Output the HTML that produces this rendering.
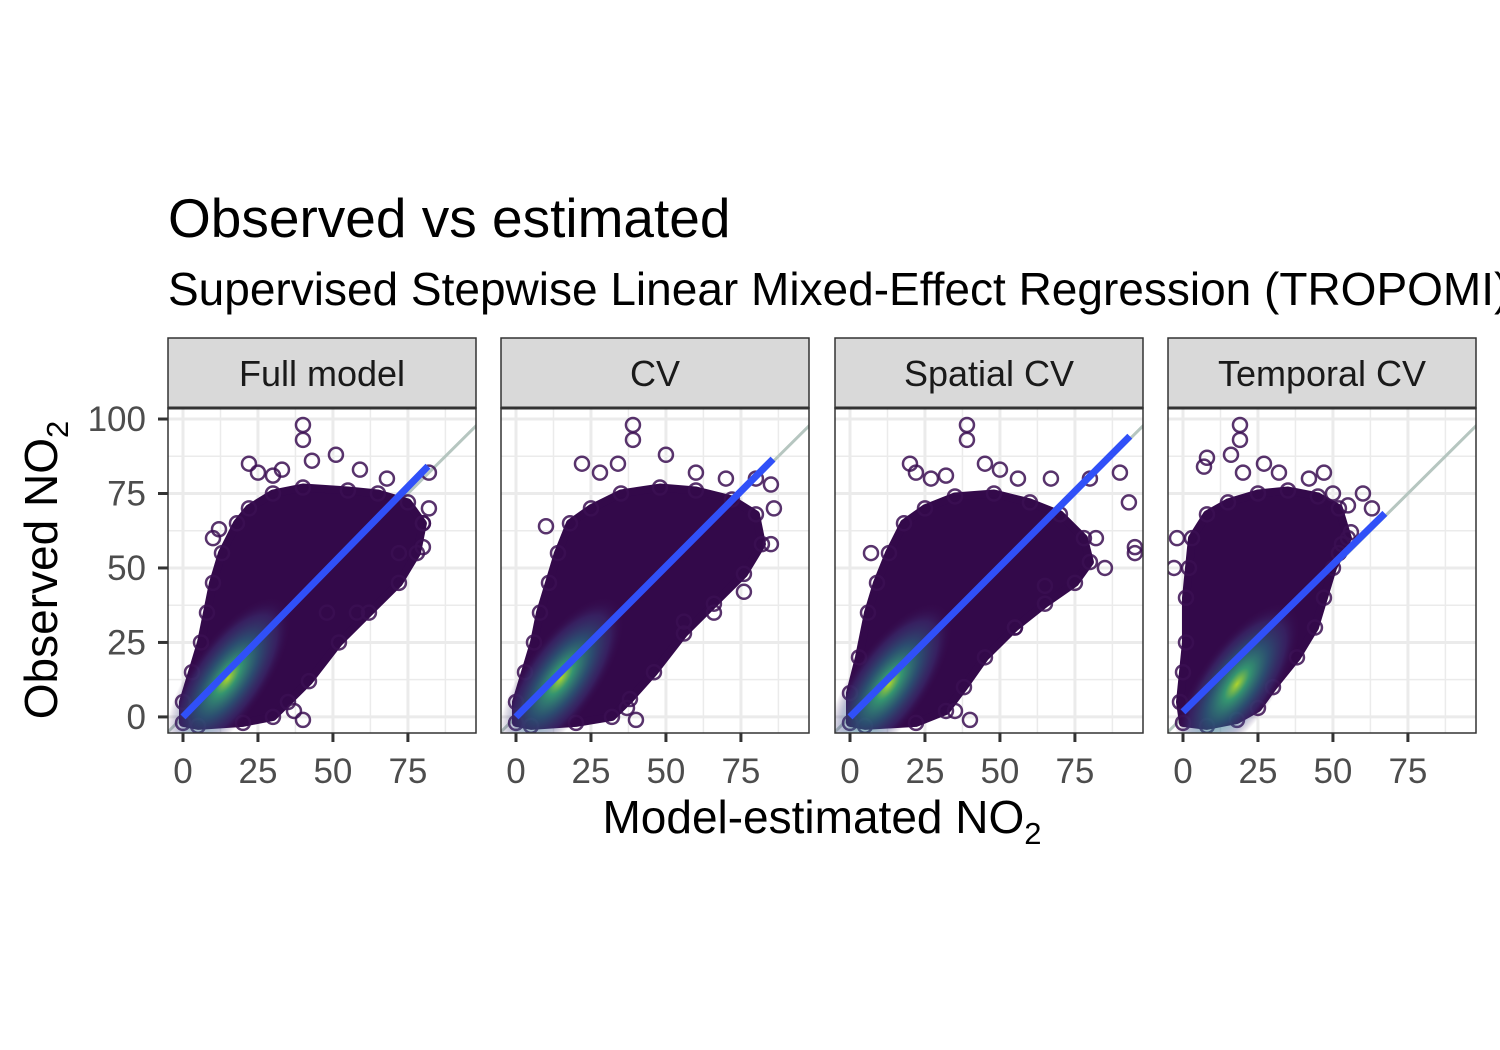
<!DOCTYPE html>
<html><head><meta charset="utf-8"><style>
html,body{margin:0;padding:0;background:#fff;width:1500px;height:1050px;overflow:hidden}
svg{display:block;font-family:"Liberation Sans",Arial,sans-serif}
</style></head><body>
<svg id="chart" width="1500" height="1050" viewBox="0 0 1500 1050">
<defs>
<radialGradient id="dens" cx="50%" cy="50%" r="50%">
<stop offset="0%" stop-color="#b5de2b" stop-opacity="0.95"/>
<stop offset="20%" stop-color="#35b779" stop-opacity="0.8"/>
<stop offset="50%" stop-color="#26828e" stop-opacity="0.55"/>
<stop offset="78%" stop-color="#3e4a89" stop-opacity="0.35"/>
<stop offset="100%" stop-color="#3b0f52" stop-opacity="0"/>
</radialGradient>
</defs>
<text x="168" y="237" font-size="55" fill="#000">Observed vs estimated</text>
<text x="168" y="305" font-size="46" fill="#000">Supervised Stepwise Linear Mixed-Effect Regression (TROPOMI)</text>
<text x="822" y="833" font-size="46" text-anchor="middle" fill="#000">Model-estimated NO<tspan font-size="31" dy="11">2</tspan></text>
<text transform="translate(57,570) rotate(-90)" font-size="46" text-anchor="middle" fill="#000">Observed NO<tspan font-size="31" dy="11">2</tspan></text>
<g id="panels"></g>
</svg>
<script>
const panelNames = ["Full model","CV","Spatial CV","Temporal CV"];
const xTicks = [0,25,50,75];
const yTicks = [0,25,50,75,100];
const regIntercept = [0,0,0,1.7];
const regSlope = [1.03,1.01,1.01,0.99];
const regXMax = [81.7,85.7,93.3,67.3];
const densCenterX = [15,15,13,18];
const densCenterY = [13,13,11,11];
const hull1 = [[0,-2],[0,5],[3,15],[6,25],[8,35],[10,45],[13,55],[18,65],[22,70],[30,75],[40,77],[55,76],[65,75],[75,72],[80,65],[78,55],[72,45],[62,35],[52,25],[42,12],[35,5],[30,0],[20,-2],[5,-3]];
const hull2 = [[0,-2],[0,5],[3,15],[6,25],[8,35],[11,45],[14,55],[18,65],[25,70],[35,75],[48,77],[60,76],[72,73],[80,68],[82,58],[76,48],[66,38],[56,28],[46,15],[38,6],[32,0],[20,-2],[5,-3]];
const hull3 = [[0,-2],[0,8],[3,20],[6,35],[9,45],[13,55],[18,65],[25,70],[35,74],[48,75],[60,72],[70,68],[78,60],[80,52],[75,45],[65,38],[55,30],[45,20],[38,10],[32,2],[22,-2],[5,-3]];
const hull4 = [[0,-2],[-1,5],[0,15],[1,25],[1,40],[2,50],[3,60],[8,68],[15,72],[25,75],[35,76],[45,74],[52,70],[55,60],[50,50],[47,40],[44,30],[38,20],[30,10],[25,3],[18,-1],[8,-3]];
const out1 = [[25,82],[33,83],[40,98],[40,93],[43,86],[51,88],[59,83],[68,80],[82,82],[82,70],[80,57],[80,65],[12,63],[10,60],[48,35],[58,35],[40,-1],[37,2],[72,55],[22,85],[30,81]];
const out2 = [[39,98],[39,93],[22,85],[28,82],[34,85],[50,88],[60,82],[70,80],[80,80],[85,78],[86,70],[85,58],[76,42],[10,64],[40,-1],[37,3],[56,32],[66,35]];
const out3 = [[39,98],[39,93],[20,85],[22,82],[27,80],[32,81],[45,85],[50,83],[56,80],[67,80],[80,80],[90,82],[93,72],[95,57],[95,55],[82,60],[85,50],[65,44],[55,30],[40,-1],[35,2],[7,55]];
const out4 = [[19,98],[19,93],[8,87],[16,88],[7,84],[20,82],[27,85],[32,82],[42,80],[47,82],[50,75],[55,71],[52,55],[53,58],[56,62],[60,75],[-2,60],[-3,50],[63,70]];
const hulls=[hull1,hull2,hull3,hull4], outs=[out1,out2,out3,out4];

const NS="http://www.w3.org/2000/svg";
const panelLeft=[168,501,835,1168], PW=308, PT=408, PB=733, ST=338;
const XMIN=-5, XMAX=97.7, YMIN=-5.4, YMAX=103.7;
function mk(tag,attrs,parent){const e=document.createElementNS(NS,tag);for(const k in attrs)e.setAttribute(k,attrs[k]);parent.appendChild(e);return e;}
const root=document.getElementById('panels');
for(let p=0;p<4;p++){
  const L=panelLeft[p];
  const sx=v=>L+(v-XMIN)/(XMAX-XMIN)*PW;
  const sy=v=>PB-(v-YMIN)/(YMAX-YMIN)*(PB-PT);
  const g=mk('g',{},root);
  
  
  const clipId='clip'+p;
  const cp=mk('clipPath',{id:clipId},g); mk('rect',{x:L,y:PT,width:PW,height:PB-PT},cp);
  mk('rect',{x:L,y:PT,width:PW,height:PB-PT,fill:'#fff'},g);
  const grid=mk('g',{},g);
  
  
  for(let i=0;i<xTicks.length;i++){
    const m=xTicks[i]+12.5;
    mk('line',{x1:sx(m),x2:sx(m),y1:PT,y2:PB,stroke:'#ebebeb','stroke-width':1.5},grid);
    mk('line',{x1:sx(xTicks[i]),x2:sx(xTicks[i]),y1:PT,y2:PB,stroke:'#ebebeb','stroke-width':3},grid);
  }
  for(let i=0;i<yTicks.length;i++){
    const m=yTicks[i]-12.5;
    if(m>YMIN) mk('line',{x1:L,x2:L+PW,y1:sy(m),y2:sy(m),stroke:'#ebebeb','stroke-width':1.5},grid);
    mk('line',{x1:L,x2:L+PW,y1:sy(yTicks[i]),y2:sy(yTicks[i]),stroke:'#ebebeb','stroke-width':3},grid);
  }
  const pts=mk('g',{'clip-path':'url(#'+clipId+')'},g);
  const idl=mk('line',{x1:sx(-10),y1:sy(-10),x2:sx(110),y2:sy(110),stroke:'#b6c6c0','stroke-width':3},pts);
  
  
  const h=hulls[p];
  const poly=mk('polygon',{points:h.map(d=>sx(d[0])+','+sy(d[1])).join(' '),fill:'#33094a',stroke:'#33094a','stroke-width':8,'stroke-linejoin':'round'},pts);
  
  
  for(const d of h){
    const c=mk('circle',{cx:sx(d[0]),cy:sy(d[1]),r:7,fill:'none',stroke:'#3b0f52','stroke-opacity':0.85,'stroke-width':2.5},pts);
    
    
  }
  const cx=sx(densCenterX[p]), cy=sy(densCenterY[p]);
  const de=mk('ellipse',{cx:cx,cy:cy,rx:95,ry:38,fill:'url(#dens)',transform:'rotate(-55 '+cx+' '+cy+')'},pts);
  
  
  for(const d of outs[p]){
    const c=mk('circle',{cx:sx(d[0]),cy:sy(d[1]),r:7,fill:'none',stroke:'#3b0f52','stroke-opacity':0.85,'stroke-width':2.5},pts);
    
    
  }
  const rl=mk('line',{x1:sx(0),y1:sy(regIntercept[p]),x2:sx(regXMax[p]),y2:sy(regIntercept[p]+regSlope[p]*regXMax[p]),stroke:'#3050f8','stroke-width':7},pts);
  
  
  mk('rect',{x:L,y:PT,width:PW,height:PB-PT,fill:'none',stroke:'#333','stroke-width':1.5},g);
  const st=mk('rect',{x:L,y:ST,width:PW,height:PT-ST,fill:'#d9d9d9',stroke:'#333','stroke-width':1.5},g);
  
  
  mk('line',{x1:L,x2:L+PW,y1:PT,y2:PT,stroke:'#333','stroke-width':3},g);
  const t=mk('text',{x:L+PW/2,y:386,'font-size':36,'text-anchor':'middle',fill:'#1a1a1a'},g);
  t.textContent=panelNames[p];
  
  
  for(const v of xTicks){
    mk('line',{x1:sx(v),x2:sx(v),y1:PB,y2:PB+9,stroke:'#333','stroke-width':3},g);
    const tl=mk('text',{x:sx(v),y:783,'font-size':35,'text-anchor':'middle',fill:'#4d4d4d'},g);
    tl.textContent=v;
    
    
  }
  if(p===0){
    for(const v of yTicks){
      mk('line',{x1:L-10,x2:L,y1:sy(v),y2:sy(v),stroke:'#333','stroke-width':3},g);
      const tl=mk('text',{x:L-22,y:sy(v)+12,'font-size':35,'text-anchor':'end',fill:'#4d4d4d'},g);
      tl.textContent=v;
      
      
    }
  }
}
</script>
</body></html>
